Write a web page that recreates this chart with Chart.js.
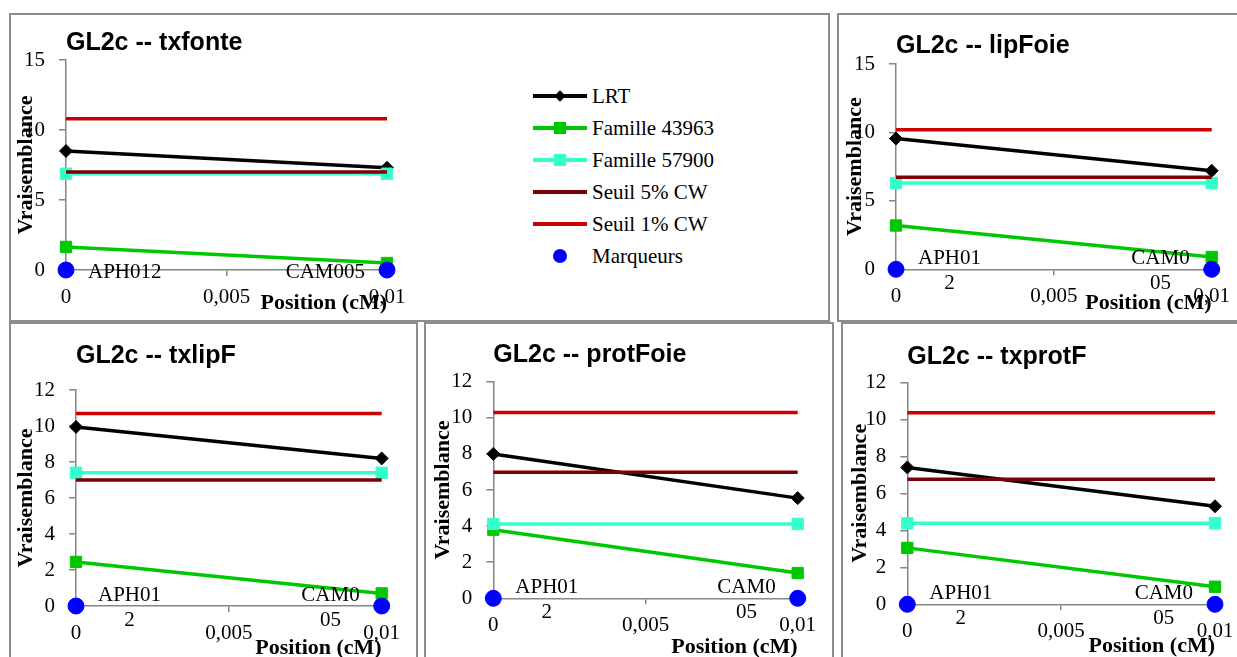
<!DOCTYPE html>
<html lang="fr">
<head>
<meta charset="utf-8">
<title>GL2c - vraisemblance</title>
<script src="https://cdn.jsdelivr.net/npm/chart.js@4.4.1/dist/chart.umd.min.js"></script>
<style>
    html, body { margin: 0; padding: 0; background: #fff; width: 1237px; height: 657px; overflow: hidden; }
    .panel { position: absolute; box-sizing: border-box; border: 2px solid #8c8c8c; background: #fff; overflow: hidden; }
    .panel canvas { position: absolute; left: 0; top: 0; }
    #legend { position: absolute; left: 522px; top: 65px; font: 21px "Liberation Serif", serif; color: #000; }
    .row { position: relative; height: 32px; width: 200px; }
    .sym { position: absolute; left: 0; top: 16px; width: 54px; height: 0; }
    .sym .ln { position: absolute; left: 0; top: -2px; width: 54px; height: 4px; }
    .sym .mk { position: absolute; }
    .row .txt { position: absolute; left: 59px; top: 0; line-height: 32px; white-space: nowrap; }
</style>
</head>
<body>

<script>
// Données
const panelTitles = ['GL2c -- txfonte', 'GL2c -- lipFoie', 'GL2c -- txlipF', 'GL2c -- protFoie', 'GL2c -- txprotF'];
const seriesNames = ['LRT', 'Famille 43963', 'Famille 57900', 'Seuil 5% CW', 'Seuil 1% CW', 'Marqueurs'];
const positions = [0, 0.01];
const markerNames = ['APH012', 'CAM005'];
const markerValues = [0, 0];

const lrt = [[8.5, 7.3], [9.55, 7.2], [9.95, 8.2], [8.0, 5.55], [7.4, 5.3]];
const fam43963 = [[1.65, 0.5], [3.2, 0.9], [2.45, 0.7], [3.8, 1.4], [3.05, 0.95]];
const fam57900 = [[6.88, 6.88], [6.3, 6.3], [7.4, 7.4], [4.12, 4.12], [4.38, 4.38]];
const seuil5 = [[7.0, 7.0], [6.72, 6.72], [7.0, 7.0], [6.98, 6.98], [6.76, 6.76]];
const seuil1 = [[10.8, 10.8], [10.2, 10.2], [10.7, 10.7], [10.3, 10.3], [10.36, 10.36]];

const yMax = [15, 15, 12, 12, 12];
const yStep = [5, 5, 2, 2, 2];
const xTicks = [0, 0.005, 0.01];
const xTickLabels = ['0', '0,005', '0,01'];

// Styles
const AXIS = '#868686';
const SERIF = '"Liberation Serif", "Times New Roman", serif';
const styles = [
    { color: '#000000', point: 'rectRot', radius: 6.5, legend: 'diamond' },
    { color: '#00c800', point: 'rect', radius: 8, legend: 'square' },
    { color: '#33ffcc', point: 'rect', radius: 8, legend: 'square' },
    { color: '#7f0000', point: false, radius: 0, legend: 'line' },
    { color: '#cc0000', point: false, radius: 0, legend: 'line' },
    { color: '#0000ff', point: 'circle', radius: 8, legend: 'dot' }
];

// Mise en page des cadres (px)
const panels = [
    { left: 9, top: 13, width: 821, height: 309, cw: 420, ch: 305, yW: 55, padR: 44, tTop: 13.5, tBot: 1.5, xH: 50, xPad: 3, yPad: 2.5, wrap: 200 },
    { left: 837, top: 13, width: 420, height: 309, cw: 398, ch: 305, yW: 57, padR: 25.3, tTop: 16.5, tBot: 2.5, xH: 50.7, xPad: 3, yPad: 3.6, wrap: 66 },
    { left: 9, top: 322, width: 409, height: 360, cw: 405, ch: 345, yW: 65, padR: 34.3, tTop: 17.5, tBot: 18.5, xH: 63, xPad: 7.8, yPad: 2.5, wrap: 66 },
    { left: 424, top: 322, width: 410, height: 360, cw: 406, ch: 345, yW: 67.3, padR: 34.3, tTop: 16, tBot: 11.7, xH: 70.7, xPad: 8.5, yPad: 4, wrap: 66 },
    { left: 841, top: 322, width: 420, height: 360, cw: 394, ch: 345, yW: 64.3, padR: 22, tTop: 17.7, tBot: 10.6, xH: 64.7, xPad: 9, yPad: 3.8, wrap: 66 }
];

Chart.defaults.color = '#000';
Chart.defaults.font.family = SERIF;

// Coupe un nom de marqueur caractère par caractère (comme Excel)
function wrapChars(ctx, text, maxWidth) {
    const lines = [];
    let cur = '';
    for (const ch of text) {
        if (cur && ctx.measureText(cur + ch).width > maxWidth) {
            lines.push(cur);
            cur = ch;
        } else {
            cur += ch;
        }
    }
    if (cur) lines.push(cur);
    return lines;
}

// Étiquettes des marqueurs à côté des points bleus
const markerLabels = {
    id: 'markerLabels',
    afterDatasetsDraw(chart, args, opts) {
        const idx = chart.data.datasets.findIndex(d => d.label === 'Marqueurs');
        const meta = chart.getDatasetMeta(idx);
        const ctx = chart.ctx;
        ctx.save();
        ctx.font = '21px ' + SERIF;
        ctx.fillStyle = '#000';
        ctx.textAlign = 'center';
        ctx.textBaseline = 'middle';
        meta.data.forEach((pt, i) => {
            const lines = wrapChars(ctx, markerNames[i], opts.maxWidth);
            const w = Math.max(...lines.map(l => ctx.measureText(l).width));
            const cx = i === 0 ? pt.x + 22 + w / 2 : pt.x - 22 - w / 2;
            const y0 = pt.y + 2 - (lines.length - 1) * 25 / 2;
            lines.forEach((l, j) => ctx.fillText(l, cx, y0 + j * 25));
        });
        ctx.restore();
    }
};

function buildDatasets(i) {
    const series = [lrt[i], fam43963[i], fam57900[i], seuil5[i], seuil1[i], markerValues];
    return series.map((vals, k) => {
        const st = styles[k];
        return {
            label: seriesNames[k],
            data: positions.map((x, n) => ({ x: x, y: vals[n] })),
            showLine: k < 5,
            borderColor: st.color,
            backgroundColor: st.color,
            borderWidth: 3.5,
            pointStyle: st.point,
            pointRadius: st.radius,
            pointHoverRadius: st.radius,
            pointBorderWidth: 1,
            clip: false,
            order: 6 - k
        };
    });
}

function makeChart(i) {
    const p = panels[i];
    const div = document.createElement('div');
    div.className = 'panel';
    Object.assign(div.style, { left: p.left + 'px', top: p.top + 'px', width: p.width + 'px', height: p.height + 'px' });
    const canvas = document.createElement('canvas');
    canvas.width = p.cw;
    canvas.height = p.ch;
    div.appendChild(canvas);
    document.body.appendChild(div);

    new Chart(canvas, {
        type: 'scatter',
        data: { datasets: buildDatasets(i) },
        options: {
            responsive: false,
            animation: false,
            events: [],
            layout: { padding: { left: 0, top: 0, right: p.padR, bottom: 0 } },
            plugins: {
                legend: { display: false },
                tooltip: { enabled: false },
                title: {
                    display: true,
                    text: panelTitles[i],
                    align: 'start',
                    fullSize: false,
                    color: '#000',
                    font: { family: '"Liberation Sans", Arial, sans-serif', size: 25, weight: 'bold', lineHeight: 1.2 },
                    padding: { top: p.tTop, bottom: p.tBot }
                },
                markerLabels: { maxWidth: p.wrap }
            },
            scales: {
                x: {
                    type: 'linear',
                    min: 0,
                    max: 0.01,
                    afterBuildTicks: s => { s.ticks = xTicks.map(v => ({ value: v })); },
                    afterFit: s => {
                        s.height = p.xH;
                        s.paddingLeft = 0; s.paddingRight = 0;
                    },
                    ticks: {
                        autoSkip: false,
                        maxRotation: 0,
                        padding: 9,
                        color: '#000',
                        font: { size: 21, family: SERIF },
                        callback: v => xTickLabels[xTicks.indexOf(v)]
                    },
                    grid: { drawOnChartArea: false, drawTicks: true, tickLength: 6, color: AXIS, lineWidth: 1.5 },
                    border: { display: true, color: AXIS, width: 1.5 },
                    title: {
                        display: true,
                        text: 'Position (cM)',
                        align: 'end',
                        color: '#000',
                        font: { size: 22, weight: 'bold', family: SERIF },
                        padding: { top: 0, bottom: p.xPad }
                    }
                },
                y: {
                    min: 0,
                    max: yMax[i],
                    afterFit: s => {
                        s.width = p.yW;
                        s.paddingTop = 0; s.paddingBottom = 0;
                    },
                    ticks: {
                        stepSize: yStep[i],
                        padding: 14,
                        color: '#000',
                        font: { size: 21, family: SERIF }
                    },
                    grid: { drawOnChartArea: false, drawTicks: true, tickLength: 7, color: AXIS, lineWidth: 1.5 },
                    border: { display: true, color: AXIS, width: 1.5 },
                    title: {
                        display: true,
                        text: 'Vraisemblance',
                        color: '#000',
                        font: { size: 22, weight: 'bold', family: SERIF },
                        padding: { top: p.yPad, bottom: 0 }
                    }
                }
            }
        },
        plugins: [markerLabels]
    });
    return div;
}

// Légende HTML dans le premier cadre
function buildLegend(host) {
    const box = document.createElement('div');
    box.id = 'legend';
    seriesNames.forEach((name, k) => {
        const st = styles[k];
        const row = document.createElement('div');
        row.className = 'row';
        const sym = document.createElement('span');
        sym.className = 'sym';
        if (st.legend !== 'dot') {
            const ln = document.createElement('span');
            ln.className = 'ln';
            ln.style.background = st.color;
            sym.appendChild(ln);
        }
        const mk = document.createElement('span');
        mk.className = 'mk';
        mk.style.background = st.color;
        if (st.legend === 'diamond') {
            Object.assign(mk.style, { width: '8px', height: '8px', left: '23px', top: '-4px', transform: 'rotate(45deg)' });
        } else if (st.legend === 'square') {
            Object.assign(mk.style, { width: '12px', height: '12px', left: '21px', top: '-6px' });
        } else if (st.legend === 'dot') {
            Object.assign(mk.style, { width: '14px', height: '14px', left: '20px', top: '-7px', borderRadius: '50%' });
        } else {
            mk.style.display = 'none';
        }
        sym.appendChild(mk);
        const txt = document.createElement('span');
        txt.className = 'txt';
        txt.textContent = name;
        row.appendChild(sym);
        row.appendChild(txt);
        box.appendChild(row);
    });
    host.appendChild(box);
}

const first = makeChart(0);
buildLegend(first);
for (let i = 1; i < panels.length; i++) makeChart(i);
</script>
</body>
</html>
